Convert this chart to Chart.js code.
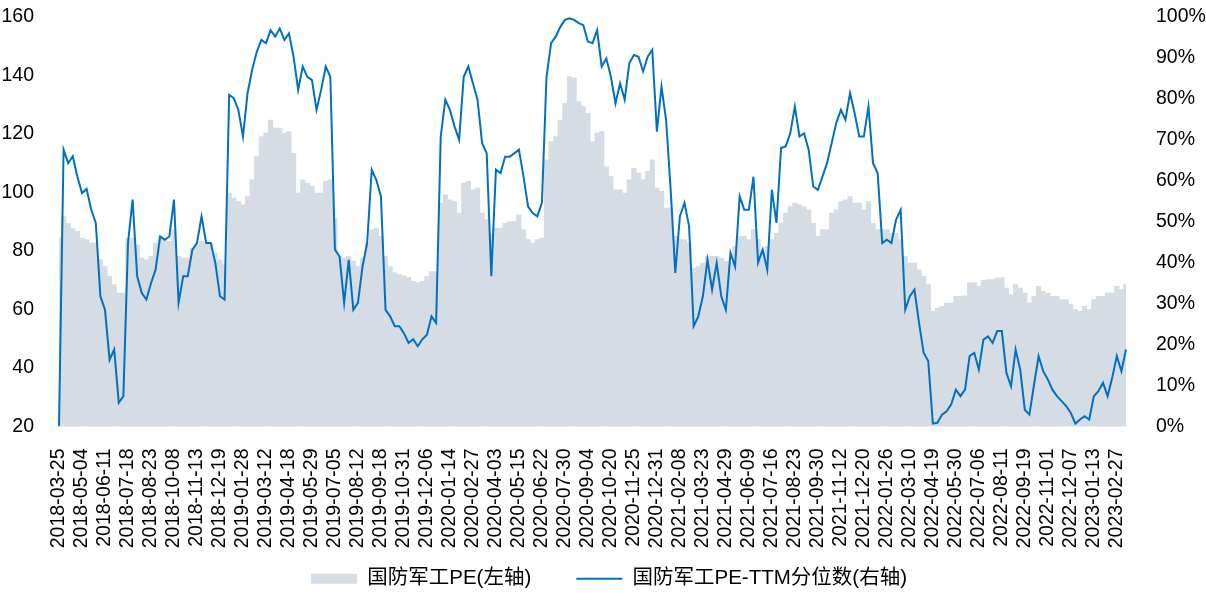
<!DOCTYPE html>
<html>
<head>
<meta charset="utf-8">
<script src="https://cdn.jsdelivr.net/npm/chart.js@4.4.1/dist/chart.umd.min.js"></script>
<style>
  html, body { margin: 0; padding: 0; background: #fff; }
  #wrap { width: 1206px; height: 593px; }
</style>
</head>
<body>
<div id="wrap"><canvas id="peChart"></canvas></div>
<script>
// 横轴刻度（每 5 个数据点一个）
const tickLabels = [
  "2018-03-25", "2018-05-04", "2018-06-11", "2018-07-18", "2018-08-23", "2018-10-08",
  "2018-11-13", "2018-12-19", "2019-01-28", "2019-03-12", "2019-04-18", "2019-05-29",
  "2019-07-05", "2019-08-12", "2019-09-18", "2019-10-31", "2019-12-06", "2020-01-14",
  "2020-02-27", "2020-04-03", "2020-05-15", "2020-06-22", "2020-07-30", "2020-09-04",
  "2020-10-20", "2020-11-25", "2020-12-31", "2021-02-08", "2021-03-23", "2021-04-29",
  "2021-06-09", "2021-07-16", "2021-08-23", "2021-09-30", "2021-11-12", "2021-12-20",
  "2022-01-26", "2022-03-10", "2022-04-19", "2022-05-30", "2022-07-06", "2022-08-11",
  "2022-09-19", "2022-11-01", "2022-12-07", "2023-01-13", "2023-02-27"
];
const STEP = 5;

// 国防军工PE（左轴）
const peValues = [
  84.4, 91.8, 89.5, 87.8, 86.7, 84.4, 83.9, 82.7, 82.7, 77,
  74.7, 71.3, 68.5, 65.6, 65.6, 84.4, 84.4, 82.1, 77.6, 77,
  78.2, 82.7, 85, 83.9, 83.3, 87.3, 78.2, 77.6, 77.6, 81,
  82.1, 83.3, 82.7, 82.7, 79.3, 77, 75.3, 99.8, 98.1, 96.9,
  95.8, 98.6, 104.3, 112.3, 119.1, 120.3, 124.8, 122, 122, 120.3,
  120.8, 113.4, 99.8, 104.3, 103.2, 102.1, 99.8, 99.8, 103.8, 104.3,
  91.2, 78.2, 77.6, 78.2, 76.5, 74.7, 77.6, 82.7, 87.3, 87.8,
  85, 78.2, 74.7, 72.5, 71.9, 71.6, 71, 69.6, 69.1, 69.6,
  71.3, 73, 73, 96.4, 99.2, 97.5, 96.9, 93, 103.2, 103.8,
  100.9, 101.5, 93, 90.7, 86.1, 87.8, 87.8, 89.5, 90.1, 90.1,
  92.4, 87.3, 83.9, 82.7, 83.9, 84.4, 111.2, 117.4, 119.1, 124.8,
  130.5, 139.6, 139.1, 131.1, 129.4, 127.1, 117.4, 120.3, 120.8, 108.9,
  105.5, 100.9, 100.9, 99.8, 104.3, 108.3, 106.6, 104.3, 107.2, 111.2,
  101.5, 100.4, 94.7, 94.7, 85, 83.9, 83.9, 82.7, 74.2, 74.7,
  75.9, 78.2, 78.2, 78.2, 77.6, 76.5, 75.9, 81.6, 85, 85,
  83.9, 87.3, 84, 79.3, 81.6, 83.9, 86.1, 89.5, 93, 95.2,
  96.4, 95.8, 95.2, 94.1, 89.5, 85, 87.3, 87.3, 93, 94.1,
  96.9, 97.5, 98.6, 96.4, 96.4, 94.1, 96.9, 89.5, 87.3, 87.3,
  87.3, 86.1, 86.1, 83.9, 78.2, 75.9, 75.9, 73.6, 71.3, 68.5,
  59.4, 60.5, 61.1, 62.2, 62.2, 64.5, 64.5, 64.7, 69.1, 69.1,
  67.9, 70, 70.2, 70.2, 70.8, 70.8, 67.3, 65.1, 68.5, 67.3,
  65.6, 62.2, 64.5, 67.9, 66.2, 65.6, 64.5, 64.5, 63.4, 63.4,
  61.7, 60, 59.4, 61.1, 60, 63.4, 64.5, 64.5, 65.6, 65.6,
  67.9, 66.8, 68.5
];

// 国防军工PE-TTM分位数（右轴，%）
const pctValues = [
  0, 67.6, 64.3, 66, 61, 57, 58, 53, 49.7, 31.8,
  28.5, 16.3, 18.8, 5.8, 7.4, 44.8, 55.4, 36.7, 32.6, 31,
  35, 38.3, 46.4, 45.6, 46.4, 55.4, 30.2, 36.7, 36.7, 43.2,
  44.8, 51.3, 44.8, 44.8, 39.9, 31.8, 31, 81, 80.2, 77.3,
  70.8, 81.4, 87.1, 91.5, 94.4, 93.6, 96.8, 95.2, 97.2, 94.4,
  96, 90.3, 82.2, 87.9, 85.4, 84.6, 77.3, 82.2, 87.9, 85.4,
  43.2, 41.5, 30.2, 40.7, 28.5, 30.2, 39.1, 44.8, 62.7, 60.2,
  56.2, 28.5, 26.9, 24.5, 24.5, 22.8, 20.4, 21.3, 19.6, 21.3,
  22.4, 26.9, 25.3, 70.8, 79.8, 77.3, 73.3, 70, 85.4, 87.9,
  83.8, 79.8, 69.2, 66.7, 36.7, 62.7, 61.9, 65.9, 65.9, 66.7,
  67.6, 61, 53.7, 52.1, 51.3, 54.6, 85.4, 93.6, 95.2, 97.6,
  99.3, 99.7, 99.3, 98.5, 98, 94, 93.6, 96.8, 87.9, 89.9,
  85.4, 78.9, 83.8, 79.8, 88.7, 90.7, 90.3, 86.7, 90.3, 92,
  72, 83, 74.9, 57.8, 37.5, 51.3, 54.6, 48.9, 24.5, 26.9,
  31.8, 40.7, 33.4, 39.9, 31.8, 28.5, 42.4, 39.1, 56.2, 52.9,
  52.9, 61, 40, 43.2, 38.3, 57.8, 49.7, 68, 68.4, 71.6,
  78.1, 70.8, 71.6, 67.6, 58.6, 57.8, 61, 64.3, 69.2, 74.1,
  77.3, 74.9, 81.4, 76.5, 70.8, 70.8, 78.1, 64.3, 61.9, 44.8,
  45.6, 44.8, 50.5, 52.9, 28.5, 31.8, 33.4, 25.3, 18, 16,
  0.7, 0.9, 2.9, 3.7, 5.4, 9, 7.4, 9, 17.2, 18,
  13.9, 21.2, 22, 20.4, 23.3, 23.3, 13.1, 9.8, 18.8, 13.9,
  4.1, 2.9, 10.2, 17.2, 13.5, 11.5, 9, 7.4, 6.2, 5,
  3.3, 0.7, 1.7, 2.5, 1.7, 7.4, 8.6, 10.7, 7.4, 11.9,
  17.2, 13.5, 18.8
];

const categories = peValues.map((v, i) => (i % STEP === 0 ? (tickLabels[i / STEP] || "") : ""));

Chart.defaults.font.family = "Arial, 'Liberation Sans', 'Noto Sans CJK SC', sans-serif";
Chart.defaults.color = "#000";

// 轴的尺寸固定，标签的半高不再挤压绘图区，标签也不按轴框裁剪
function fixVertical(width) {
  return (scale) => {
    scale.width = width;
    scale.paddingTop = 0;
    scale.paddingBottom = 0;
    scale._computeLabelArea = () => undefined;
  };
}

const ctx = document.getElementById("peChart").getContext("2d");

new Chart(ctx, {
  type: "bar",
  data: {
    labels: categories,
    datasets: [
      {
        type: "bar",
        label: "国防军工PE(左轴)",
        data: peValues,
        backgroundColor: "#D6DCE4",
        borderWidth: 0,
        categoryPercentage: 1,
        barPercentage: 1,
        yAxisID: "y",
        pointStyle: "rect",
        order: 1
      },
      {
        type: "line",
        label: "国防军工PE-TTM分位数(右轴)",
        data: pctValues,
        borderColor: "#0070C0",
        backgroundColor: "#0070C0",
        borderWidth: 2,
        pointRadius: 0,
        tension: 0,
        fill: false,
        yAxisID: "y2",
        pointStyle: "line",
        order: 0
      }
    ]
  },
  options: {
    responsive: true,
    maintainAspectRatio: false,
    animation: false,
    // 左边留 12px，让图例整体右移一点，左轴宽度相应缩小
    layout: { padding: { top: 17, bottom: -6, left: 12, right: 0 } },
    plugins: {
      tooltip: { enabled: false },
      legend: {
        position: "bottom",
        labels: {
          usePointStyle: true,
          pointStyleWidth: 46,
          boxHeight: 10,
          padding: 45,
          font: { size: 20.5 },
          sort: (a, b) => a.datasetIndex - b.datasetIndex
        }
      }
    },
    scales: {
      x: {
        offset: false,
        grid: { display: false, offset: false },
        border: { display: false },
        ticks: {
          autoSkip: false,
          maxRotation: 90,
          minRotation: 90,
          padding: 14,
          font: { size: 19.5 }
        },
        afterFit: (scale) => {
          scale.height = 97;
          scale.paddingLeft = 0;
          scale.paddingRight = 0;
          // 竖排日期比轴框长，不要裁掉
          scale._computeLabelArea = () => undefined;
        }
      },
      y: {
        position: "left",
        min: 20,
        max: 160,
        grid: { display: false },
        border: { display: false },
        ticks: { stepSize: 20, padding: 17, font: { size: 19.5 } },
        afterFit: fixVertical(47)
      },
      y2: {
        position: "right",
        min: 0,
        max: 100,
        grid: { display: false },
        border: { display: false },
        ticks: {
          stepSize: 10,
          padding: 22,
          font: { size: 19.5 },
          callback: (v) => v + "%"
        },
        afterFit: fixVertical(80)
      }
    }
  }
});
</script>
</body>
</html>
